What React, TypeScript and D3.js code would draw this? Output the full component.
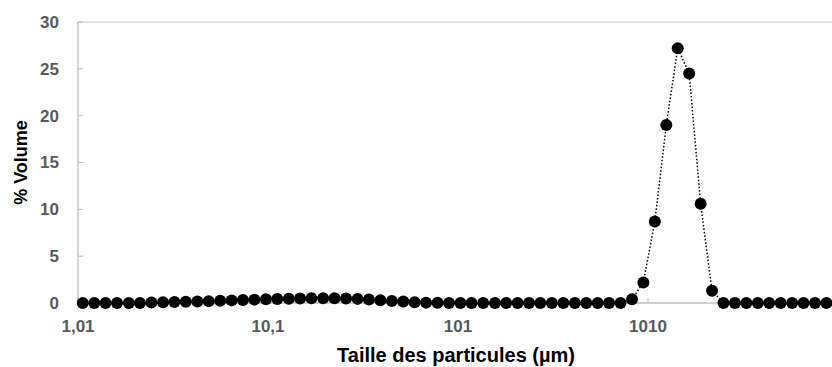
import React from "react";
import * as d3 from "d3";

const sizes: number[] = [
  1.07, 1.23, 1.41, 1.62, 1.87, 2.14, 2.46, 2.83, 3.25, 3.73,
  4.29, 4.92, 5.66, 6.5, 7.46, 8.57, 9.85, 11.3, 13.0, 14.9,
  17.1, 19.7, 22.6, 26.0, 29.9, 34.3, 39.4, 45.3, 52.0, 59.7,
  68.6, 78.8, 90.5, 104, 119, 137, 158, 181, 208, 239,
  274, 315, 362, 416, 478, 549, 630, 724, 832, 955,
  1097, 1261, 1448, 1664, 1911, 2195, 2521, 2896, 3327, 3822,
  4390, 5043, 5793, 6654, 7643, 8780,
];

const volumes: number[] = [
  0, 0, 0, 0, 0, 0, 0.05, 0.08, 0.1, 0.13,
  0.17, 0.2, 0.24, 0.28, 0.32, 0.36, 0.4, 0.43, 0.46, 0.49,
  0.5, 0.51, 0.5, 0.48, 0.44, 0.38, 0.3, 0.22, 0.15, 0.08,
  0.04, 0.02, 0, 0, 0, 0, 0, 0, 0, 0,
  0, 0, 0, 0, 0, 0, 0, 0, 0.4, 2.2,
  8.7, 19.0, 27.2, 24.5, 10.6, 1.3, 0, 0, 0, 0,
  0, 0, 0, 0, 0, 0,
];

const xTicks: number[] = [1.01, 10.1, 101, 1010];
const xTickLabels: string[] = ["1,01", "10,1", "101", "1010"];
const yTicks: number[] = [0, 5, 10, 15, 20, 25, 30];

const W = 832;
const H = 367;
const left = 78;
const top = 22;
const bottom = 303;
const decade = 190;

export default function App() {
  const x = d3.scaleLog().domain([1.01, 10100]).range([left, left + 4 * decade]);
  const y = d3.scaleLinear().domain([0, 30]).range([bottom, top]);
  const data = sizes.map((s, i) => ({ s, v: volumes[i] }));
  const line = d3
    .line<{ s: number; v: number }>()
    .x((d) => x(d.s))
    .y((d) => y(d.v));
  const font = "'Liberation Sans', Arial, sans-serif";
  return (
    <svg
      width={W}
      height={H}
      style={{ position: "absolute", left: 0, top: 0, background: "#fff" }}
      fontFamily={font}
    >
      <rect width={W} height={H} fill="#fff" />
      {/* top gridline */}
      <line x1={left} x2={W} y1={y(30)} y2={y(30)} stroke="#d9d9d9" strokeWidth={1.3} />
      {/* y axis */}
      <line x1={left} x2={left} y1={top} y2={bottom} stroke="#bfbfbf" strokeWidth={1.3} />
      {yTicks.map((t) => (
        <g key={t}>
          <line x1={left} x2={left + 5} y1={y(t)} y2={y(t)} stroke="#bfbfbf" strokeWidth={1} />
          <text
            x={59}
            y={y(t)}
            dy="0.35em"
            textAnchor="end"
            fontSize={17}
            fontWeight="bold"
            fill="#595959"
          >
            {t}
          </text>
        </g>
      ))}
      {/* x axis */}
      <line x1={left} x2={W} y1={bottom} y2={bottom} stroke="#bfbfbf" strokeWidth={1.3} />
      {xTicks.map((t, i) => (
        <g key={t}>
          <line x1={x(t)} x2={x(t)} y1={bottom} y2={bottom - 5} stroke="#bfbfbf" strokeWidth={1} />
          <text
            x={x(t)}
            y={326}
            dy="0.35em"
            textAnchor="middle"
            fontSize={17}
            fontWeight="bold"
            fill="#595959"
          >
            {xTickLabels[i]}
          </text>
        </g>
      ))}
      {/* series */}
      <path
        d={line(data) || ""}
        fill="none"
        stroke="#000"
        strokeWidth={1.5}
        strokeDasharray="1.5,2"
      />
      {data.map((d, i) => (
        <circle key={i} cx={x(d.s)} cy={y(d.v)} r={6} fill="#000" />
      ))}
      {/* axis titles */}
      <text
        x={456}
        y={355}
        dy="0.35em"
        textAnchor="middle"
        fontSize={20}
        fontWeight="bold"
        fill="#000"
      >
        Taille des particules (µm)
      </text>
      <text
        transform={`translate(21,${(top + bottom) / 2}) rotate(-90)`}
        dy="0.35em"
        textAnchor="middle"
        fontSize={18}
        fontWeight="bold"
        fill="#000"
      >
        % Volume
      </text>
    </svg>
  );
}
